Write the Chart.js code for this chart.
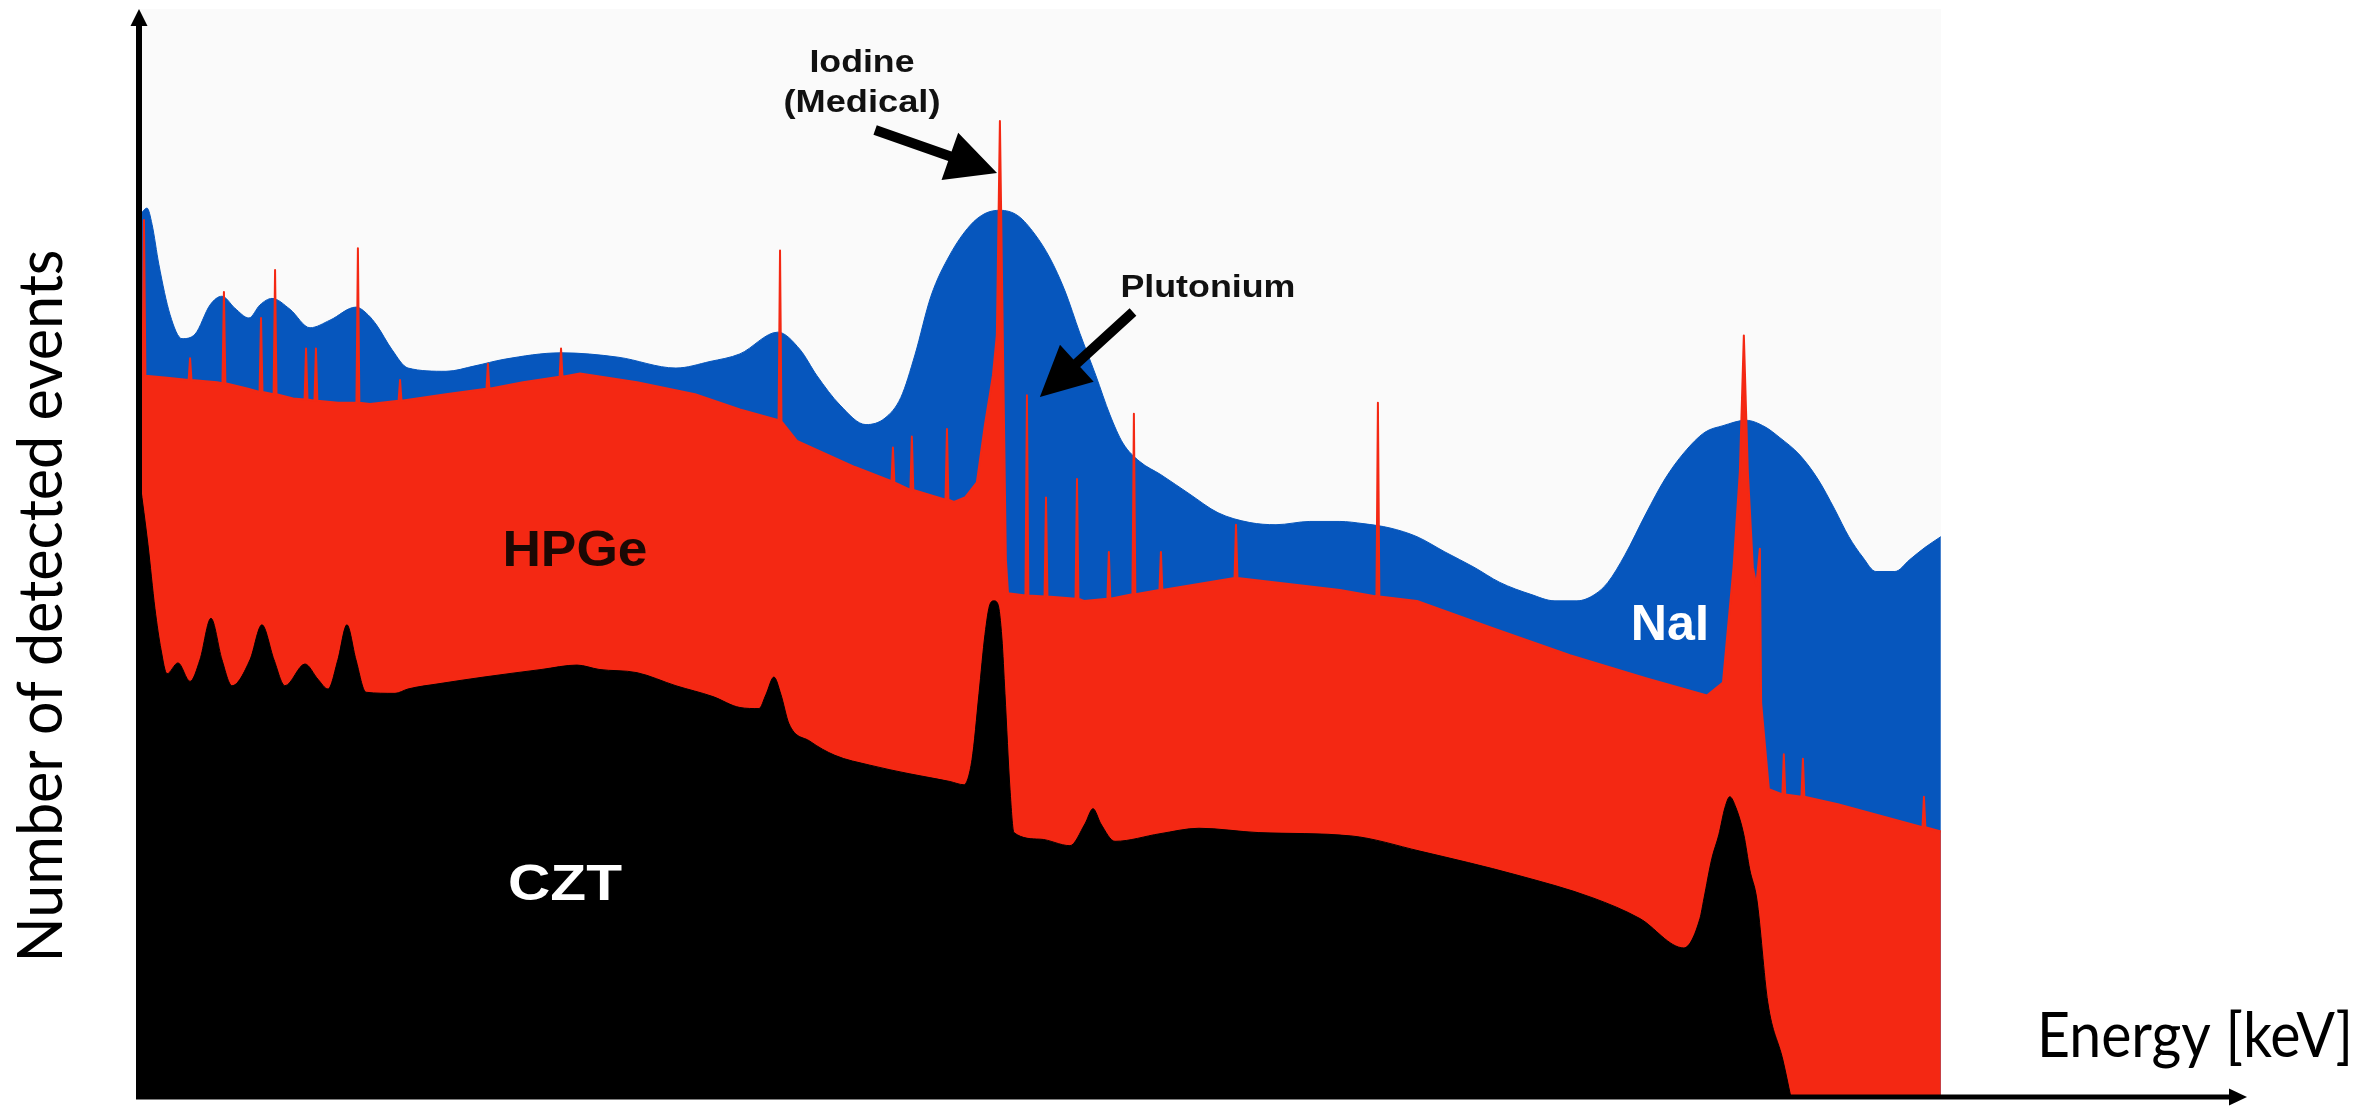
<!DOCTYPE html>
<html>
<head>
<meta charset="utf-8">
<title>Gamma spectra: NaI / HPGe / CZT</title>
<script src="https://cdn.jsdelivr.net/npm/chart.js@4.4.1/dist/chart.umd.min.js"></script>
<style>
  html, body { margin: 0; padding: 0; background: #fff; }
  canvas { display: block; }
</style>
</head>
<body>
<canvas id="spectrumChart" width="2379" height="1107"></canvas>
<script>
// *****Spectrum data (energy and counts in arbitrary units)***** //
const naiEnergy = [0, 3.9, 6.7, 10.5, 16.7, 23.3, 30.5, 38.9, 45.5, 52.7, 60.5, 66.6, 73.3, 83.3, 94.4,
    105.5, 119.9, 126.6, 131.6, 139.9, 148.8, 169.9, 186, 202.1, 233.8, 265.4, 297.6, 316.5, 333.1,
    354.2, 366.5, 375.9, 388.7, 403.1, 413.7, 422.5, 430.3, 439.2, 449.7, 460.9, 469.2, 477.5, 487.5,
    496.9, 505.3, 513.6, 521.9, 530.8, 538.6, 545.8, 555.2, 566.9, 583, 598.6, 616.3, 630.8, 649.6,
    666.3, 679.1, 694.1, 709.1, 724.6, 740.7, 755.1, 772.3, 785.7, 797.9, 807.9, 815.1, 824.5, 836.2,
    846.8, 857.3, 869, 879, 891.7, 902.3, 910.6, 921.7, 931.7, 941.1, 948.9, 956.7, 963.9, 974.5,
    982.8, 991.1, 1000];
const naiCounts = [811, 817, 802, 765, 719, 697, 701, 728, 736, 725, 716, 728, 734, 724, 707,
    714, 726, 719, 709, 687, 670, 667, 672, 678, 684, 680, 670, 676, 683,
    703, 687, 663, 636, 618, 624, 643, 682, 736, 774, 801, 812, 815, 810,
    793, 771, 741, 702, 663, 627, 601, 584, 572, 554, 537, 528, 526, 529,
    529, 527, 523, 515, 501, 487, 473, 462, 456, 456, 462, 473, 498, 536,
    568, 592, 611, 617, 622, 616, 606, 590, 568, 540, 515, 496, 483, 483,
    494, 505, 515];

const hpgeEnergy = [0, 1.4, 2.2, 3.0, 15, 27, 27.8, 28.6, 42.8, 45.8, 46.6, 47.4, 60, 66.4, 67.2, 68,
    74.2, 75, 75.8, 85, 91.4, 92.2, 93, 96.9, 97.7, 98.5, 110, 120.2, 121, 121.8, 127.7,
    143.6, 144.4, 145.2, 169.9, 192.4, 193.2, 194, 212.7, 233, 233.8, 234.6, 244.3, 276, 308.2,
    333.1, 354.6, 355.4, 356.2, 364.8, 397, 417.3, 418.1, 418.9, 427.8, 428.6, 429.4,
    447.3, 448.1, 448.9, 452, 458.1, 464.7, 469.2, 473.6, 475.8, 477.5, 479.2, 480.8, 482,
    491.7, 492.5, 493.3, 502.3, 503.1, 503.9, 519.5, 520.3, 521.1, 524.2, 537.2, 538, 538.8,
    551.1, 551.9, 552.7, 566.1, 566.9, 567.7, 607.8, 608.6, 609.4, 666.3, 686.6, 687.4, 688.2,
    709.1, 751.2, 794, 836.2, 870.1, 879, 884.9, 888.4, 890.6, 892.8, 895.6, 897.5, 899.5, 900.2,
    904.5, 912, 912.8, 913.6, 922.6, 923.4, 924.2, 942.8, 989.8, 990.6, 991.4, 1000];
const hpgeCounts = [663, 663, 806, 663, 661, 659, 679, 659, 657, 656, 740, 656, 651, 648, 716, 648,
    646, 760, 646, 642, 641, 688, 641, 640, 688, 640, 638, 638, 780, 638, 637,
    640, 659, 640, 646, 651, 674, 651, 657, 662, 688, 662, 665, 657, 646,
    632, 622, 778, 621, 603, 579, 566, 597, 565, 558, 607, 558,
    549, 614, 549, 547, 551, 565, 618, 663, 700, 897, 687, 494, 463,
    461, 645, 461, 460, 551, 460, 458, 568, 458, 456, 458, 501, 458,
    462, 628, 462, 466, 501, 466, 477, 526, 477, 466, 460, 638, 460,
    456, 431, 406, 385, 369, 381, 487, 575, 700, 575, 487, 470, 504, 362,
    283, 278, 315, 278, 276, 311, 276, 269, 248, 276, 248, 244];

const cztEnergy = [0, 4.4, 8.3, 11.7, 15, 21.1, 27.8, 33.3, 39.4, 45.5, 51.1, 61.1, 67.7, 74.4, 80.5,
    91.6, 98.8, 104.4, 109.9, 114.9, 119.9, 125.5, 141.6, 148.8, 166.6, 191, 223.2, 242.6, 254.9,
    276, 297.6, 318.2, 333.1, 343.7, 347.6, 352, 355.9, 360.4, 372, 385.9, 405.3, 427.5, 449.7,
    457.5, 462, 465.9, 469.2, 472, 474.2, 476.4, 478.6, 480.3, 483.1, 485.3, 499.7, 516.4, 524.7,
    529.2, 533.6, 541.4, 566.4, 588, 621.3, 672.4, 710.7, 764.6, 806.8, 832.9, 857.3, 866.2, 868.4,
    872.8, 876.7, 880.1, 882.8, 886.2, 890.6, 893.9, 897.8, 903.9, 912.3, 916.7];
const cztCounts = [565, 508, 449, 411, 389, 399, 382, 402, 440, 402, 378, 402, 434, 402, 378,
    398, 384, 375, 402, 434, 402, 372, 371, 375, 380, 386, 393, 397, 393,
    390, 378, 368, 358, 357, 370, 386, 370, 343, 327, 314, 305, 297, 290,
    287, 310, 371, 425, 453, 456, 453, 422, 371, 283, 243, 237, 231, 251,
    265, 251, 235, 242, 247, 243, 240, 226, 204, 183, 164, 137, 164, 182,
    219, 241, 266, 276, 266, 241, 209, 182, 87, 34, 0];

const toPoints = (xs, ys) => xs.map((v, i) => ({ x: v, y: ys[i] }));

// text annotations, placed in data units
const annotations = [
    { text: 'HPGe', x: 241.5, y: 488, font: 'bold 50px "Liberation Sans"', color: '#1c0804', width: 145 },
    { text: 'CZT', x: 236, y: 181, font: 'bold 50px "Liberation Sans"', color: '#ffffff', width: 114 },
    { text: 'NaI', x: 849.5, y: 420, font: 'bold 50px "Liberation Sans"', color: '#ffffff', width: 78 },
    { text: 'Iodine', x: 400.9, y: 942, font: 'bold 31px "Liberation Sans"', color: '#111111', width: 105 },
    { text: '(Medical)', x: 400.9, y: 905, font: 'bold 31px "Liberation Sans"', color: '#111111', width: 157 },
    { text: 'Plutonium', x: 593, y: 735, font: 'bold 31px "Liberation Sans"', color: '#111111', width: 175 }
];
const pointers = [
    { from: [408.2, 888.8], to: [475.9, 849.3] },
    { from: [551.4, 721.5], to: [499.7, 643.4] }
];

function fitText(ctx, text, cx, cy, width) {
    const w = ctx.measureText(text).width;
    ctx.save();
    ctx.translate(cx, cy);
    ctx.scale(width / w, 1);
    ctx.textAlign = 'center';
    ctx.textBaseline = 'alphabetic';
    ctx.fillText(text, 0, 0);
    ctx.restore();
}

function arrow(ctx, x0, y0, x1, y1, shaft, headLen, headHalf) {
    const len = Math.hypot(x1 - x0, y1 - y0);
    const ux = (x1 - x0) / len, uy = (y1 - y0) / len;
    const nx = -uy, ny = ux;
    const bx = x1 - ux * headLen, by = y1 - uy * headLen;
    ctx.beginPath();
    ctx.moveTo(x0 + nx * shaft / 2, y0 + ny * shaft / 2);
    ctx.lineTo(bx + nx * shaft / 2, by + ny * shaft / 2);
    ctx.lineTo(bx + nx * headHalf, by + ny * headHalf);
    ctx.lineTo(x1, y1);
    ctx.lineTo(bx - nx * headHalf, by - ny * headHalf);
    ctx.lineTo(bx - nx * shaft / 2, by - ny * shaft / 2);
    ctx.lineTo(x0 - nx * shaft / 2, y0 - ny * shaft / 2);
    ctx.closePath();
    ctx.fill();
}

const decorations = {
    id: 'decorations',
    beforeDatasetsDraw(chart) {
        const { ctx, chartArea, scales: { x } } = chart;
        ctx.save();
        ctx.fillStyle = '#fafafa';
        ctx.fillRect(chartArea.left, chartArea.top, x.getPixelForValue(1000) - chartArea.left, chartArea.bottom - chartArea.top);
        ctx.restore();
    },
    afterDatasetsDraw(chart) {
        const { ctx, chartArea, scales: { x, y } } = chart;
        ctx.save();

        annotations.forEach(a => {
            ctx.font = a.font;
            ctx.fillStyle = a.color;
            fitText(ctx, a.text, x.getPixelForValue(a.x), y.getPixelForValue(a.y), a.width);
        });

        ctx.fillStyle = '#000';
        pointers.forEach(p => {
            arrow(ctx, x.getPixelForValue(p.from[0]), y.getPixelForValue(p.from[1]),
                x.getPixelForValue(p.to[0]), y.getPixelForValue(p.to[1]), 10, 50, 25);
        });

        // axes with arrow heads
        const left = chartArea.left - 1, bottom = chartArea.bottom;
        ctx.strokeStyle = '#000';
        ctx.lineWidth = 6;
        ctx.beginPath();
        ctx.moveTo(left, bottom + 2);
        ctx.lineTo(left, chartArea.top + 14);
        ctx.stroke();
        ctx.beginPath();
        ctx.moveTo(left, chartArea.top);
        ctx.lineTo(left - 8.5, chartArea.top + 17);
        ctx.lineTo(left + 8.5, chartArea.top + 17);
        ctx.closePath();
        ctx.fill();

        ctx.lineWidth = 5;
        ctx.beginPath();
        ctx.moveTo(left - 3, bottom);
        ctx.lineTo(chartArea.right - 14, bottom);
        ctx.stroke();
        ctx.beginPath();
        ctx.moveTo(chartArea.right, bottom);
        ctx.lineTo(chartArea.right - 18, bottom - 8.5);
        ctx.lineTo(chartArea.right - 18, bottom + 8.5);
        ctx.closePath();
        ctx.fill();

        // axis titles
        ctx.font = '62px Lato';
        ctx.fillStyle = '#000';
        fitText(ctx, 'Energy [keV]', 2195, 1057, 316);
        ctx.save();
        ctx.translate(62, 606);
        ctx.rotate(-Math.PI / 2);
        fitText(ctx, 'Number of detected events', 0, 0, 713);
        ctx.restore();

        ctx.restore();
    }
};

const spectrum = document.getElementById('spectrumChart');
if (spectrum) {
    new Chart(spectrum, {
        type: 'line',
        data: {
            datasets: [{
                label: 'CZT',
                data: toPoints(cztEnergy, cztCounts),
                backgroundColor: '#000000',
                borderColor: '#000000',
                borderWidth: 1,
                cubicInterpolationMode: 'monotone',
                fill: 'origin',
                order: 1
            }, {
                label: 'HPGe',
                data: toPoints(hpgeEnergy, hpgeCounts),
                backgroundColor: '#f42813',
                borderColor: '#f42813',
                borderWidth: 2,
                fill: 'origin',
                order: 2
            }, {
                label: 'NaI',
                data: toPoints(naiEnergy, naiCounts),
                backgroundColor: '#0656bd',
                borderColor: '#0656bd',
                borderWidth: 1,
                cubicInterpolationMode: 'monotone',
                fill: 'origin',
                order: 3
            }]
        },
        options: {
            responsive: false,
            animation: false,
            layout: { padding: { left: 140, right: 132, top: 9, bottom: 10 } },
            elements: {
                point: { radius: 0, hoverRadius: 0 },
                line: { tension: 0, borderJoinStyle: 'round' }
            },
            scales: {
                x: { type: 'linear', min: 0, max: 1170, display: false },
                y: { min: 0, max: 1000, display: false }
            },
            plugins: {
                legend: { display: false },
                tooltip: { enabled: false }
            }
        },
        plugins: [decorations]
    });
}
</script>
</body>
</html>
